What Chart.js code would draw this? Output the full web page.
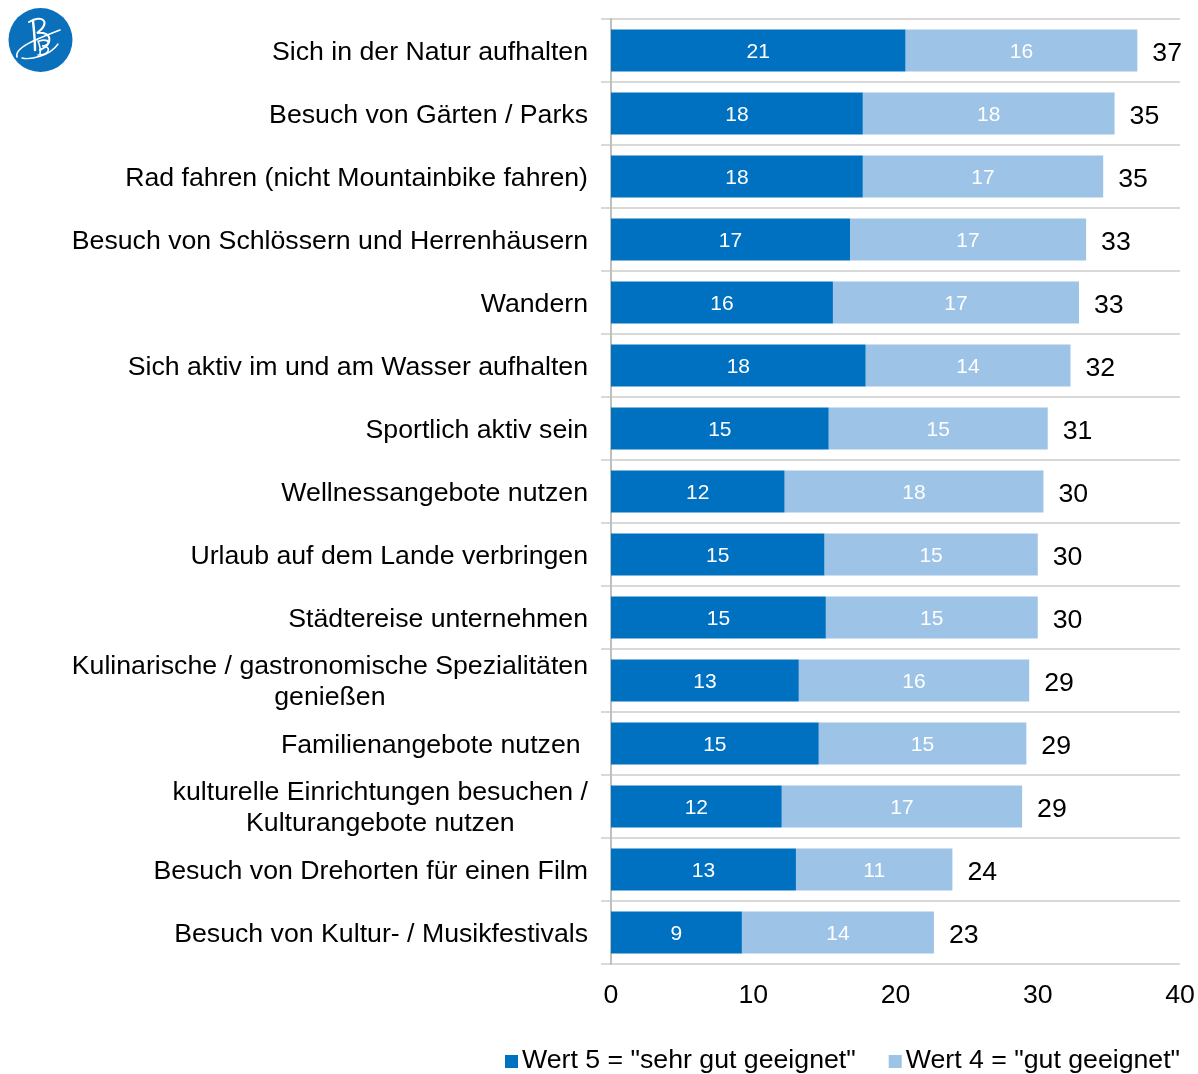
<!DOCTYPE html>
<html>
<head>
<meta charset="utf-8">
<script src="https://cdn.jsdelivr.net/npm/chart.js@4.4.0/dist/chart.umd.min.js"></script>
<style>
html, body { margin: 0; padding: 0; background: #fff; overflow: hidden; }
#wrap { position: relative; width: 1198px; height: 1074px; }
#logo { position: absolute; left: 0; top: 0; }
</style>
</head>
<body>
<div id="wrap">
  <canvas id="chart" width="1198" height="1074"></canvas>
  <svg id="logo" width="80" height="80" viewBox="0 0 80 80">
    <circle cx="40.5" cy="40" r="32" fill="#0b70bb"/>
    <g fill="none" stroke="#fff" stroke-linecap="round">
      <path d="M33 21 C34 30, 35 40, 35 50" stroke-width="2.4"/>
      <path d="M29 22 C42 14, 52 22, 37 33 C52 31, 54 44, 40 50" stroke-width="2"/>
      <path d="M17 57 C14 48, 34 40, 60 30" stroke-width="1.6"/>
      <path d="M38 41 C40 46, 41 50, 40 54 M39 41 C50 38, 52 45, 42 46 C52 46, 50 55, 38 55" stroke-width="1.6"/>
      <path d="M22 58 C30 60, 50 56, 58 44" stroke-width="1.4"/>
    </g>
  </svg>
</div>
<script>
const categories = [
    'Sich in der Natur aufhalten',
    'Besuch von Gärten / Parks',
    'Rad fahren (nicht Mountainbike fahren)',
    'Besuch von Schlössern und Herrenhäusern',
    'Wandern',
    'Sich aktiv im und am Wasser aufhalten',
    'Sportlich aktiv sein',
    'Wellnessangebote nutzen',
    'Urlaub auf dem Lande verbringen',
    'Städtereise unternehmen',
    ['Kulinarische / gastronomische Spezialitäten', 'genießen'],
    'Familienangebote nutzen ',
    ['kulturelle Einrichtungen besuchen /', 'Kulturangebote nutzen'],
    'Besuch von Drehorten für einen Film',
    'Besuch von Kultur- / Musikfestivals'
];

// Wert 5 = "sehr gut geeignet"
const sehrGut = [20.7, 17.7, 17.7, 16.8, 15.6, 17.9, 15.3, 12.2, 15.0, 15.1, 13.2, 14.6, 12.0, 13.0, 9.2];
// Wert 4 = "gut geeignet"
const gut = [16.3, 17.7, 16.9, 16.6, 17.3, 14.4, 15.4, 18.2, 15.0, 14.9, 16.2, 14.6, 16.9, 11.0, 13.5];

const seriesNames = ['Wert 5 = "sehr gut geeignet"', 'Wert 4 = "gut geeignet"'];
const seriesColors = ['#0070c0', '#9dc3e6'];
const xTickValues = [0, 10, 20, 30, 40];

const FONT = '"Liberation Sans", Arial, sans-serif';
const BIG = 26.7;

// category labels: right aligned block, lines centred inside the block
const categoryLabels = {
    id: 'categoryLabels',
    afterDraw(chart) {
        const ctx = chart.ctx;
        const yScale = chart.scales.y;
        const right = chart.chartArea.left - 23;
        const lineHeight = 31;
        ctx.save();
        ctx.font = BIG + 'px ' + FONT;
        ctx.fillStyle = '#000';
        ctx.textAlign = 'center';
        ctx.textBaseline = 'middle';
        categories.forEach((label, i) => {
            const lines = Array.isArray(label) ? label : [label];
            const blockW = Math.max(...lines.map(l => ctx.measureText(l).width));
            const cx = right - blockW / 2;
            const y = yScale.getPixelForTick(i) + 2;
            const startY = y - (lines.length - 1) * lineHeight / 2;
            lines.forEach((l, k) => ctx.fillText(l, cx, startY + k * lineHeight));
        });
        ctx.restore();
    }
};

// values inside the bars and totals at the end
const valueLabels = {
    id: 'valueLabels',
    afterDatasetsDraw(chart) {
        const ctx = chart.ctx;
        ctx.save();
        ctx.textBaseline = 'middle';
        chart.data.datasets.forEach((ds, di) => {
            const meta = chart.getDatasetMeta(di);
            meta.data.forEach((bar, i) => {
                ctx.font = '21px ' + FONT;
                ctx.fillStyle = '#fff';
                ctx.textAlign = 'center';
                ctx.fillText(Math.round(ds.data[i]), (bar.x + bar.base) / 2, bar.y + 2);
            });
        });
        const last = chart.getDatasetMeta(chart.data.datasets.length - 1);
        last.data.forEach((bar, i) => {
            const total = sehrGut[i] + gut[i];
            ctx.font = BIG + 'px ' + FONT;
            ctx.fillStyle = '#000';
            ctx.textAlign = 'left';
            ctx.fillText(Math.round(total), bar.x + 15, bar.y + 3);
        });
        ctx.restore();
    }
};

// legend at the bottom
const bottomLegend = {
    id: 'bottomLegend',
    afterDraw(chart) {
        const ctx = chart.ctx;
        const y = 1061;
        let x = 505;
        ctx.save();
        ctx.font = BIG + 'px ' + FONT;
        ctx.textBaseline = 'middle';
        ctx.textAlign = 'left';
        seriesNames.forEach((name, i) => {
            ctx.fillStyle = seriesColors[i];
            ctx.fillRect(x, y - 6, 13, 13);
            ctx.fillStyle = '#000';
            ctx.fillText(name, x + 17, y);
            x += 17 + ctx.measureText(name).width + 33;
        });
        ctx.restore();
    }
};

const ctx = document.getElementById('chart').getContext('2d');
const chart = new Chart(ctx, {
    type: 'bar',
    data: {
        labels: categories,
        datasets: [{
            label: seriesNames[0],
            data: sehrGut,
            backgroundColor: seriesColors[0],
            categoryPercentage: 1,
            barPercentage: 0.67
        }, {
            label: seriesNames[1],
            data: gut,
            backgroundColor: seriesColors[1],
            categoryPercentage: 1,
            barPercentage: 0.67
        }]
    },
    options: {
        indexAxis: 'y',
        responsive: false,
        animation: false,
        layout: {
            padding: { top: 19, right: 18, bottom: 0, left: 0 }
        },
        plugins: {
            legend: { display: false },
            tooltip: { enabled: false }
        },
        scales: {
            x: {
                stacked: true,
                min: 0,
                max: 40,
                afterBuildTicks: scale => {
                    scale.ticks = xTickValues.map(v => ({ value: v }));
                },
                grid: { display: false, drawTicks: false },
                border: { display: false },
                ticks: {
                    font: { family: FONT, size: BIG },
                    color: '#000',
                    padding: 16
                },
                afterFit: scale => {
                    scale.height = 110;
                    scale.paddingLeft = 0;
                    scale.paddingRight = 0;
                }
            },
            y: {
                stacked: true,
                grid: {
                    color: '#d9d9d9',
                    lineWidth: 2,
                    offset: true,
                    drawTicks: true,
                    tickLength: 10,
                    tickColor: '#d9d9d9'
                },
                border: { display: true, color: '#bfbfbf', width: 2 },
                ticks: { display: false },
                afterFit: scale => { scale.width = 611; }
            }
        }
    },
    plugins: [valueLabels, categoryLabels, bottomLegend]
});
</script>
</body>
</html>
